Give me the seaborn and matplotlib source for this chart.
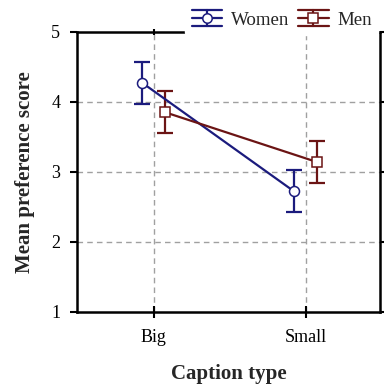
import numpy as np
import pandas as pd
import matplotlib
matplotlib.use("Agg")
import matplotlib.pyplot as plt
from matplotlib.legend_handler import HandlerBase
from matplotlib.lines import Line2D
import seaborn as sns

# Mean preference scores (with error half-widths) by caption type
categories = ["Big", "Small"]
groups = ["Women", "Men"]
women_mean = [4.27, 2.72]
men_mean = [3.85, 3.14]
women_err = [0.30, 0.30]
men_err = [0.30, 0.30]
y_ticks = [1, 2, 3, 4, 5]

colors = {"Women": "#1b1b7d", "Men": "#6b1414"}
markers = {"Women": "o", "Men": "s"}
offsets = {"Women": -0.075, "Men": 0.075}

rows = []
for g, means, errs in [("Women", women_mean, women_err), ("Men", men_mean, men_err)]:
    for i, (c, m, e) in enumerate(zip(categories, means, errs)):
        rows.append({"group": g, "caption": c, "pos": i + offsets[g], "mean": m, "err": e})
df = pd.DataFrame(rows)


class ErrorKeyHandler(HandlerBase):
    """Legend key: line with marker, vertical bar and full-width caps."""

    def create_artists(self, legend, orig_handle, xdescent, ydescent,
                       width, height, fontsize, trans):
        color = orig_handle.get_color()
        marker = orig_handle.get_marker()
        lw = orig_handle.get_linewidth()
        x0, x1 = -xdescent, -xdescent + width
        xc = (x0 + x1) / 2
        yc = -ydescent + height / 2
        dy = height * 0.62
        artists = []
        for y in (yc - dy, yc, yc + dy):
            artists.append(Line2D([x0, x1], [y, y], color=color, lw=lw))
        artists.append(Line2D([xc, xc], [yc - dy, yc + dy], color=color, lw=lw))
        artists.append(Line2D([xc], [yc], marker=marker, markersize=orig_handle.get_markersize(),
                              markerfacecolor="white", markeredgecolor=color,
                              markeredgewidth=orig_handle.get_markeredgewidth(), lw=0))
        for a in artists:
            a.set_transform(trans)
        return artists


sns.set_theme(style="white")
plt.rcParams["font.family"] = ["Liberation Serif", "DejaVu Serif"]

fig = plt.figure(figsize=(3.84, 3.86), dpi=100)
ax = fig.add_axes([77 / 384, 1 - 312 / 386, 303 / 384, 280.3 / 386])

# gridlines at category positions and integer scores
for i in range(len(categories)):
    ax.axvline(i, color="#a0a0a0", lw=1.0, ls=(0, (4, 3)), zorder=0)
for y in y_ticks[1:-1]:
    ax.axhline(y, color="#a0a0a0", lw=1.0, ls=(0, (4, 3)), zorder=0)

sns.lineplot(data=df, x="pos", y="mean", hue="group", style="group",
             palette=colors, markers=markers, dashes=False, hue_order=groups,
             style_order=groups, legend=False, ax=ax, lw=1.6,
             markersize=7.2, markerfacecolor="white", markeredgewidth=1.1,
             zorder=3)
for line, g in zip(ax.lines[-2:], groups):
    line.set_markeredgecolor(colors[g])

handles = []
for g in groups:
    sub = df[df["group"] == g]
    ax.errorbar(sub["pos"], sub["mean"], yerr=sub["err"], fmt="none",
                ecolor=colors[g], elinewidth=1.6, capsize=5.8,
                capthick=1.6, zorder=2)
    handles.append(Line2D([], [], color=colors[g], lw=1.6, marker=markers[g],
                          markersize=6.8, markerfacecolor="white",
                          markeredgecolor=colors[g], markeredgewidth=1.1))

ax.set_xlim(-0.505, 1.49)
ax.set_ylim(1, 5)
ax.set_xticks(range(len(categories)))
ax.set_xticklabels(categories)
ax.set_yticks(y_ticks)

for s in ax.spines.values():
    s.set_visible(True)
    s.set_color("black")
    s.set_linewidth(1.8)

ax.tick_params(axis="both", labelsize=13, colors="black", width=1.5)
ax.tick_params(axis="y", left=True, right=True, direction="out", length=5, pad=7)
ax.tick_params(axis="x", bottom=True, top=True, direction="inout", length=9, pad=8)
for t in ax.xaxis.get_major_ticks():
    t.tick2line.set_markersize(5)

ax.set_xlabel("Caption type", fontsize=15, fontweight="bold", labelpad=13)
ax.set_ylabel("Mean preference score", fontsize=15, fontweight="bold", labelpad=12)

leg = fig.legend(handles, groups, loc="upper right", bbox_to_anchor=(0.995, 0.997),
                 ncol=2, frameon=True, fontsize=13.6, handlelength=1.6,
                 handleheight=0.7, handletextpad=0.45, columnspacing=0.5,
                 borderpad=0.35, borderaxespad=0.2,
                 handler_map={Line2D: ErrorKeyHandler()})
leg.get_frame().set_facecolor("white")
leg.get_frame().set_edgecolor("white")
leg.get_frame().set_alpha(1.0)
leg.set_zorder(10)

fig.savefig("out.png", dpi=100)
